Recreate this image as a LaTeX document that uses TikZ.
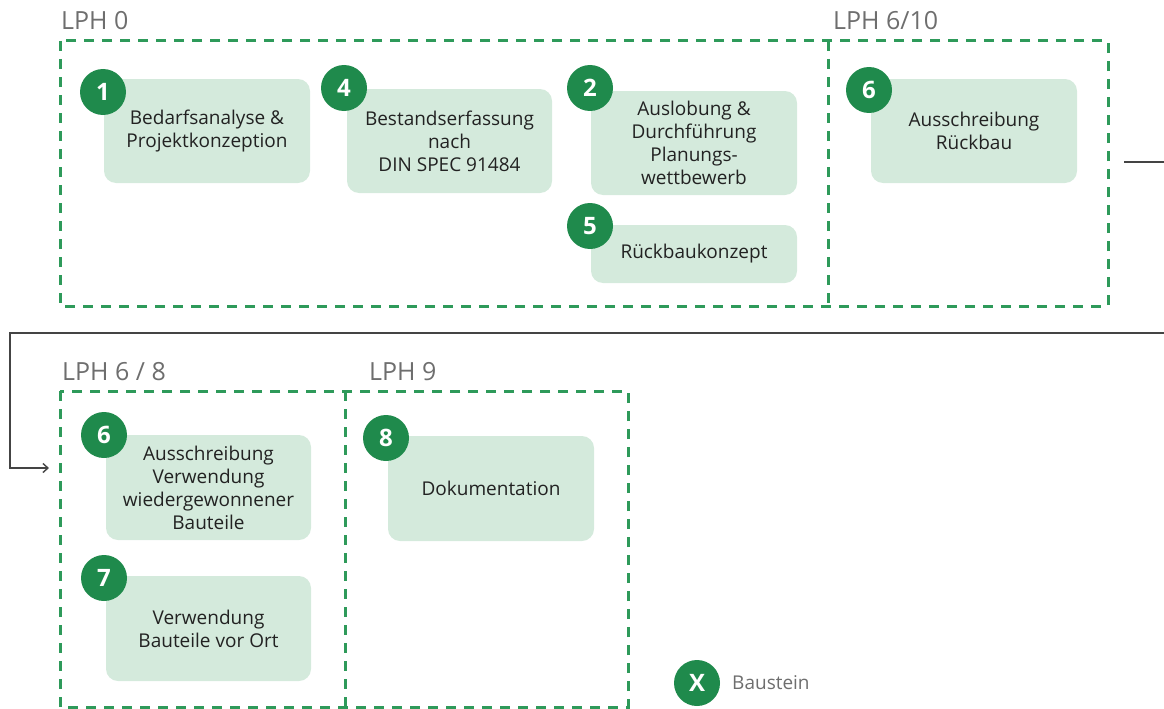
\documentclass[tikz,border=0pt]{standalone}
\usepackage{fontspec}
\setmainfont{Open Sans}
\usetikzlibrary{arrows.meta}
\definecolor{boxfill}{HTML}{D4EADC}
\definecolor{badge}{HTML}{1F8A4C}
\definecolor{frame}{HTML}{2E9A5A}
\definecolor{lphgray}{HTML}{6E6E6E}
\definecolor{txt}{HTML}{222222}
\definecolor{conn}{HTML}{444444}
\tikzset{
  card/.style={fill=boxfill, rounded corners=12pt, inner sep=0pt, align=center,
    text=txt, font=\fontsize{19}{23}\selectfont},
  badgec/.style={circle, fill=badge, minimum size=46pt, inner sep=0pt, text=white,
    font=\fontsize{24}{24}\bfseries\selectfont},
  lph/.style={dash pattern=on 10pt off 8pt, line width=3pt, draw=frame},
  lphlabel/.style={anchor=base west, text=lphgray, font=\fontsize{25}{25}\selectfont, inner sep=0pt},
  connector/.style={draw=conn, line width=1.4pt},
}
\begin{document}
\begin{tikzpicture}[x=1pt,y=-1pt]
\useasboundingbox (0,0) rectangle (1164,709);
% frames
\draw[lph] (60,41) rectangle (1108,306);
\draw[lph] (828,41) -- (828,306);
\draw[lph] (60,391) rectangle (628,707);
\draw[lph] (345,391) -- (345,707);
\node[lphlabel] (l0) at (61,30) {LPH 0};
\node[lphlabel] (l610) at (833,30) {LPH 6/10};
\node[lphlabel] (l68) at (62,380) {LPH 6 / 8};
\node[lphlabel] (l9) at (369,380) {LPH 9};
% cards
\node[card, minimum width=206pt, minimum height=104pt] (c1) at (207,131) {Bedarfsanalyse \&\\Projektkonzeption};
\node[card, minimum width=205pt, minimum height=104pt] (c4) at (449.5,141) {Bestandserfassung\\nach\\DIN SPEC 91484};
\node[card, minimum width=206pt, minimum height=104pt] (c2) at (694,143) {Auslobung \&\\Durchführung\\Planungs-\\wettbewerb};
\node[card, minimum width=206pt, minimum height=58pt] (c5) at (694,254) {Rückbaukonzept};
\node[card, minimum width=206pt, minimum height=104pt] (c6a) at (974,131) {Ausschreibung\\Rückbau};
\node[card, minimum width=205pt, minimum height=105pt] (c6b) at (208.5,487.5) {Ausschreibung\\Verwendung\\wiedergewonnener\\Bauteile};
\node[card, minimum width=205pt, minimum height=105pt] (c7) at (208.5,628.5) {Verwendung\\Bauteile vor Ort};
\node[card, minimum width=206pt, minimum height=105pt] (c8) at (491,488.5) {Dokumentation};
% badges
\node[badgec] (b1) at (103,92) {1};
\node[badgec] (b4) at (344,88) {4};
\node[badgec] (b2) at (590,88) {2};
\node[badgec] (b5) at (590,226) {5};
\node[badgec] (b6a) at (869,90) {6};
\node[badgec] (b6b) at (104,435) {6};
\node[badgec] (b7) at (104,578) {7};
\node[badgec] (b8) at (386,438) {8};
% legend
\node[badgec] (bx) at (697,683) {X};
\node[anchor=west, text=lphgray, font=\fontsize{19}{22}\selectfont, inner sep=0pt] (legend) at (732,683) {Baustein};
% connectors
\coordinate (s1) at (1124,162);
\coordinate (e1) at (1164,162);
\coordinate (s2) at (1164,333);
\coordinate (tgt) at (49,468);
\draw[connector] (s1) -- (e1);
\draw[connector, -{Straight Barb[length=5pt,width=9pt]}] (s2) -- (10,333) |- (tgt);
\end{tikzpicture}
\end{document}
